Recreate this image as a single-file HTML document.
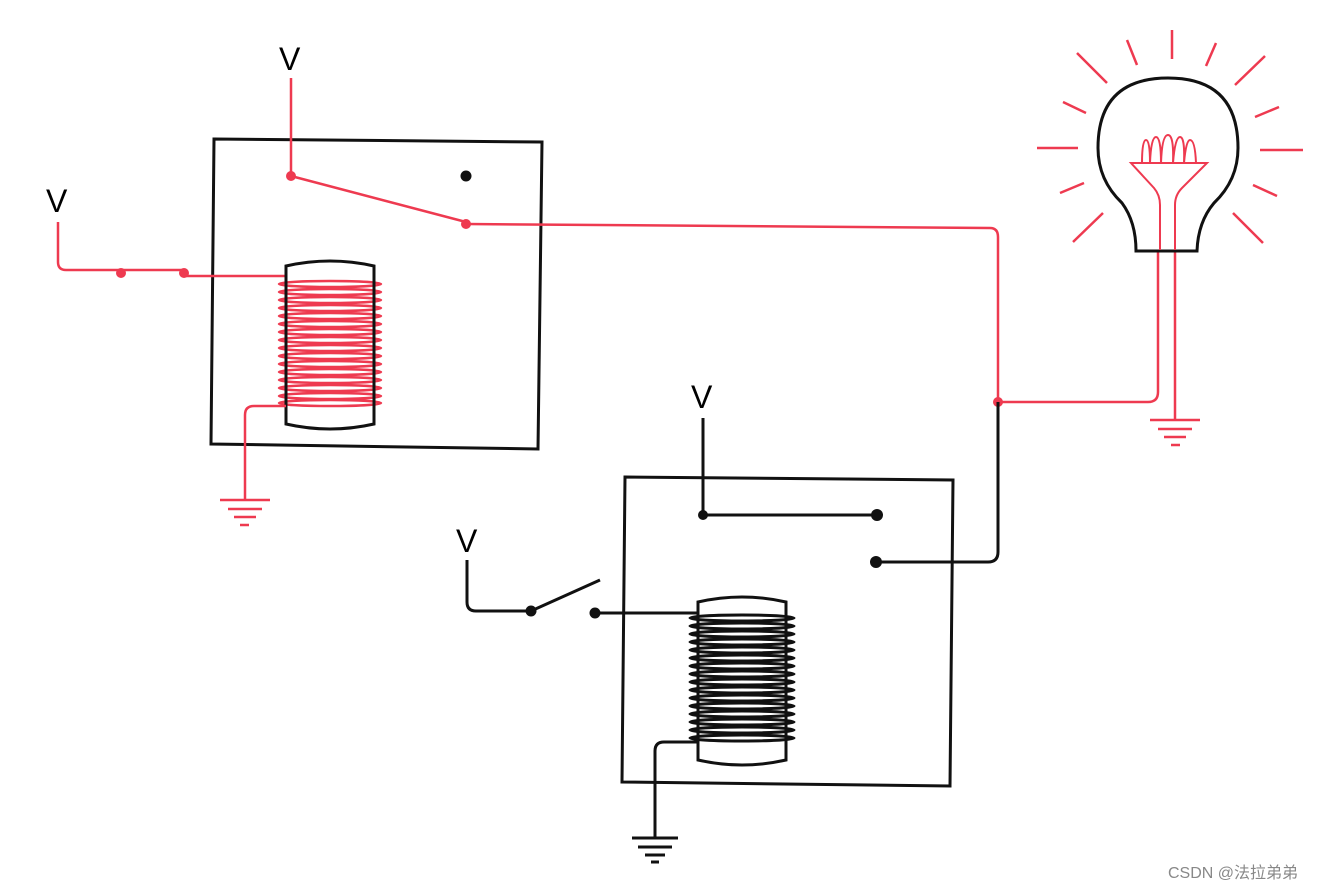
<!DOCTYPE html>
<html><head><meta charset="utf-8"><style>
html,body{margin:0;padding:0;background:#fff;}
svg{display:block}
.r{stroke:#ee3a50;fill:none;stroke-width:2.5}
.k{stroke:#111;fill:none;stroke-width:3}
text{font-family:"Liberation Sans",sans-serif;}
</style></head><body>
<svg width="1334" height="890" viewBox="0 0 1334 890" xmlns="http://www.w3.org/2000/svg">
<rect width="1334" height="890" fill="#fff"/>
<polygon points="214,139 542,142 538,449 211,444" class="k"/>
<text x="279" y="70" font-size="32">V</text>
<text x="46" y="212" font-size="32">V</text>
<path class="r" d="M291,78 V176 L466,222"/>
<circle cx="291" cy="176" r="5" fill="#ee3a50"/>
<circle cx="466" cy="224" r="5" fill="#ee3a50"/>
<circle cx="466" cy="176" r="5.5" fill="#111"/>
<path class="r" d="M58,222 V262 Q58,270 66,270 H184 L186,276 H285"/>
<circle cx="121" cy="273" r="5" fill="#ee3a50"/>
<circle cx="184" cy="273" r="5" fill="#ee3a50"/>
<g class="r" stroke-width="2">
<ellipse cx="330" cy="284" rx="51" ry="3"/><ellipse cx="330" cy="292" rx="51" ry="3"/><ellipse cx="330" cy="300" rx="51" ry="3"/><ellipse cx="330" cy="308" rx="51" ry="3"/><ellipse cx="330" cy="316" rx="51" ry="3"/><ellipse cx="330" cy="324" rx="51" ry="3"/><ellipse cx="330" cy="332" rx="51" ry="3"/><ellipse cx="330" cy="340" rx="51" ry="3"/><ellipse cx="330" cy="348" rx="51" ry="3"/><ellipse cx="330" cy="356" rx="51" ry="3"/><ellipse cx="330" cy="364" rx="51" ry="3"/><ellipse cx="330" cy="372" rx="51" ry="3"/><ellipse cx="330" cy="380" rx="51" ry="3"/><ellipse cx="330" cy="388" rx="51" ry="3"/><ellipse cx="330" cy="396" rx="51" ry="3"/><ellipse cx="330" cy="403" rx="51" ry="3"/>
</g>
<path class="k" d="M286,266 Q330,256 374,266 V424 Q330,434 286,424 Z" fill="none"/>
<path class="r" d="M286,406 H254 Q245,406 245,415 V500"/>
<g class="r" stroke-width="2"><path d="M220,500 H270 M228,509 H262 M234,517 H256 M240,525 H249"/></g>
<path class="r" d="M466,224 L990,228 Q998,228 998,237 V402 H1148 Q1158,402 1158,392 V250"/>
<path class="r" d="M1175,250 V420"/>
<circle cx="998" cy="402" r="5" fill="#ee3a50"/>
<g class="r" stroke-width="2"><path d="M1150,420 H1200 M1158,429 H1192 M1164,437 H1186 M1171,445 H1180"/></g>
<path class="k" stroke-width="3" d="M1136,251 L1197,251 Q1198,222 1214,203 Q1238,180 1238,148 Q1238,78 1168,78 Q1098,78 1098,148 Q1098,180 1122,203 Q1136,222 1136,251 Z"/>
<g class="r">
<path d="M1077,53 L1107,83 M1127,40 L1137,65 M1172,30 V59 M1216,43 L1206,66 M1265,56 L1235,85 M1063,102 L1086,113 M1279,107 L1255,117 M1037,148 H1078 M1260,150 H1303 M1060,193 L1084,183 M1253,185 L1277,196 M1073,242 L1103,213 M1233,213 L1263,243"/>
<path stroke-width="2" d="M1160,250 V205 Q1160,195 1154,188 L1131,163 H1207 L1182,188 Q1175,195 1175,205 V250"/>
<path stroke-width="2" d="M1142,163 Q1142,140 1146,140 Q1150,140 1150,163 Q1151,137 1156,137 Q1161,137 1161,163 Q1162,135 1168,135 Q1174,135 1173,163 Q1175,137 1180,137 Q1185,137 1184,163 Q1186,140 1190,140 Q1195,140 1196,163"/>
</g>
<polygon points="625,477 953,480 950,786 622,782" class="k"/>
<text x="691" y="408" font-size="32">V</text>
<text x="456" y="552" font-size="32">V</text>
<path class="k" d="M703,418 V515 H877"/>
<circle cx="703" cy="515" r="5" fill="#111"/>
<circle cx="877" cy="515" r="6" fill="#111"/>
<circle cx="876" cy="562" r="6" fill="#111"/>
<path class="k" d="M876,562 H988 Q998,562 998,552 V402"/>
<path class="k" d="M467,560 V602 Q467,611 476,611 H531 L600,580"/>
<circle cx="531" cy="611" r="5.5" fill="#111"/>
<circle cx="595" cy="613" r="5.5" fill="#111"/>
<path class="k" d="M595,613 H697"/>
<g class="k" stroke-width="2.2">
<ellipse cx="742" cy="618" rx="52" ry="3"/><ellipse cx="742" cy="626" rx="52" ry="3"/><ellipse cx="742" cy="634" rx="52" ry="3"/><ellipse cx="742" cy="642" rx="52" ry="3"/><ellipse cx="742" cy="650" rx="52" ry="3"/><ellipse cx="742" cy="658" rx="52" ry="3"/><ellipse cx="742" cy="666" rx="52" ry="3"/><ellipse cx="742" cy="674" rx="52" ry="3"/><ellipse cx="742" cy="682" rx="52" ry="3"/><ellipse cx="742" cy="690" rx="52" ry="3"/><ellipse cx="742" cy="698" rx="52" ry="3"/><ellipse cx="742" cy="706" rx="52" ry="3"/><ellipse cx="742" cy="714" rx="52" ry="3"/><ellipse cx="742" cy="722" rx="52" ry="3"/><ellipse cx="742" cy="730" rx="52" ry="3"/><ellipse cx="742" cy="738" rx="52" ry="3"/>
</g>
<path class="k" d="M698,602 Q742,592 786,602 V760 Q742,770 698,760 Z"/>
<path class="k" d="M698,742 H664 Q655,742 655,751 V838"/>
<g class="k" stroke-width="2.5"><path d="M632,838 H678 M638,847 H672 M645,855 H665 M651,862 H659"/></g>
<text x="1168" y="878" font-size="16" fill="#888" font-family="Liberation Sans, Noto Sans CJK SC, sans-serif">CSDN @法拉弟弟</text>
</svg>
</body></html>
